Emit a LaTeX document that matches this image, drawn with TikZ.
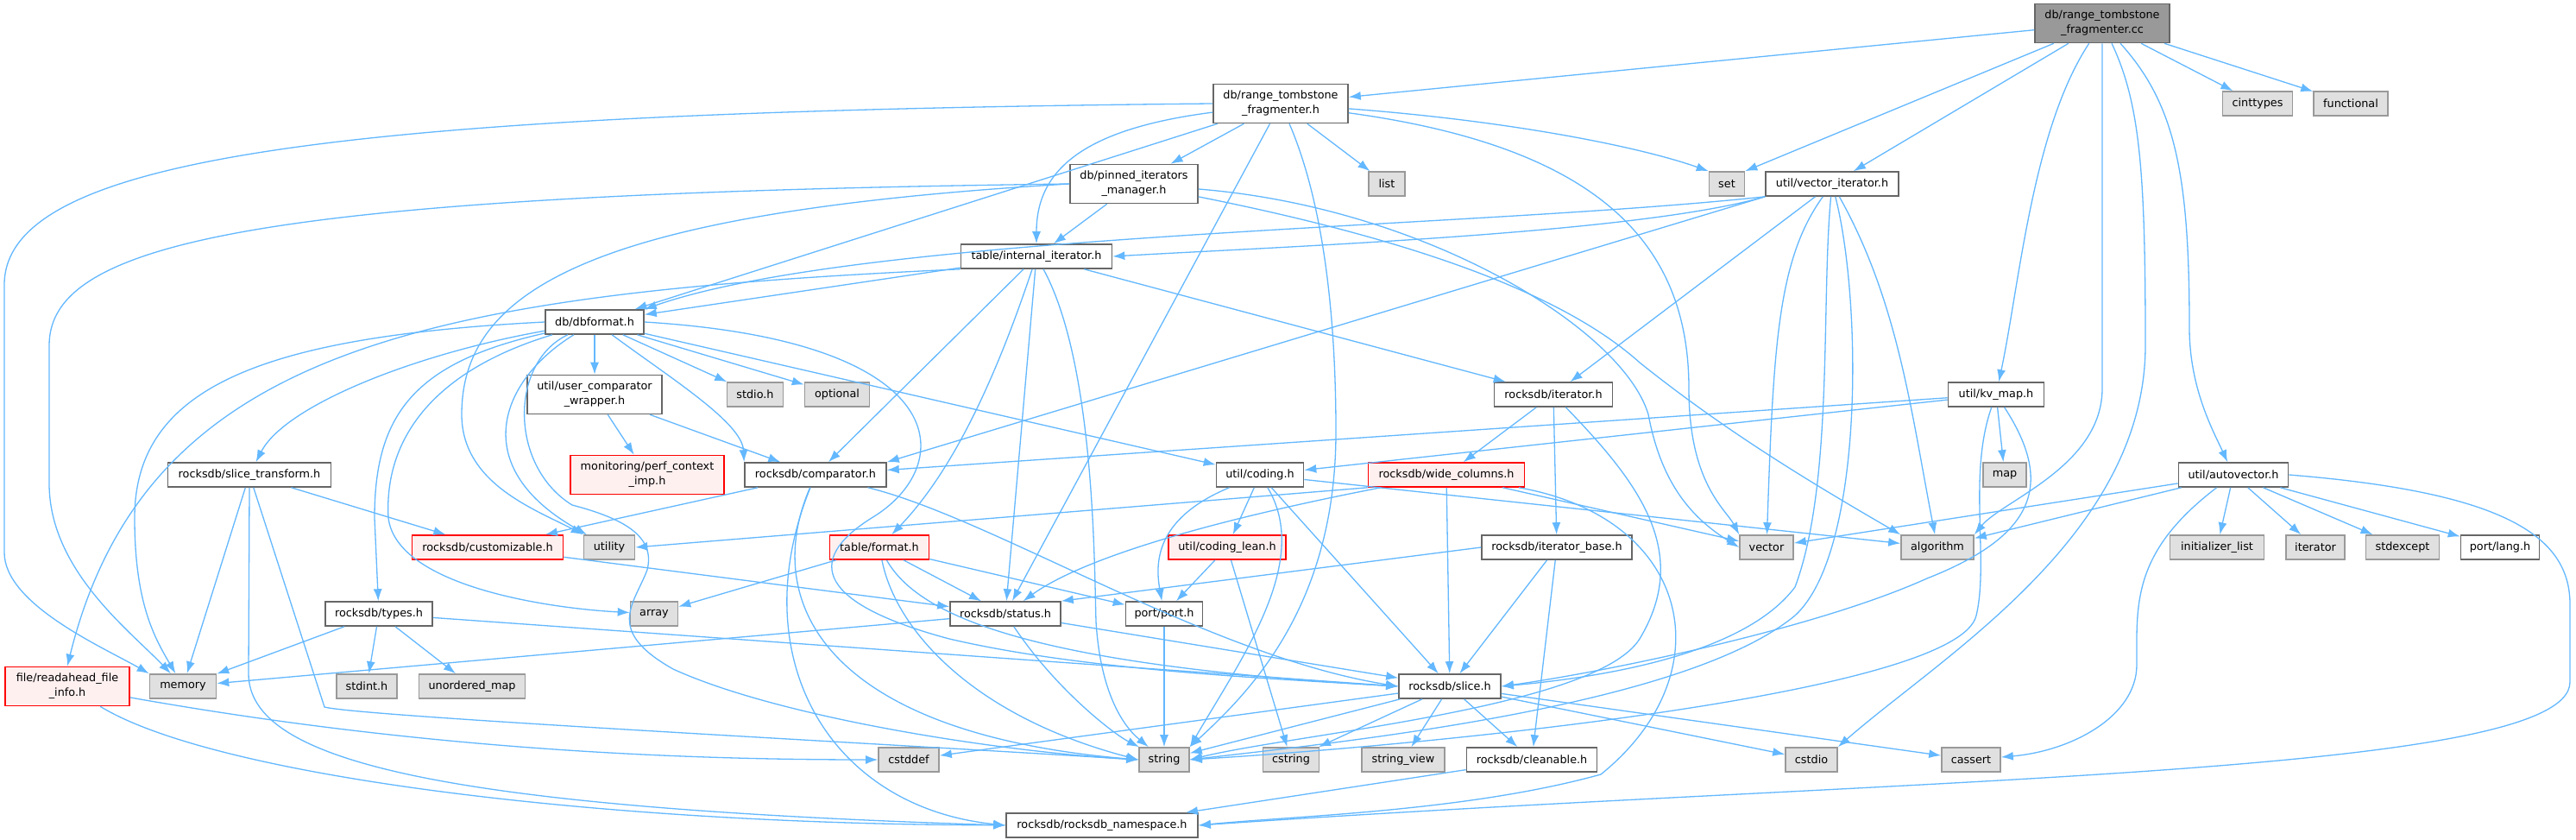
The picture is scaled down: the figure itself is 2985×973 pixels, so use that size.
\documentclass[tikz,border=0pt]{standalone}
\usepackage{fontspec}
\setmainfont{DejaVu Sans}
\usetikzlibrary{arrows.meta}

\definecolor{edgeblue}{HTML}{63B8FF}
\definecolor{nodeframe}{HTML}{666666}
\definecolor{sysfill}{HTML}{E0E0E0}
\definecolor{sysframe}{HTML}{999999}
\definecolor{rootfill}{HTML}{999999}
\definecolor{cutfill}{HTML}{FFF0F0}
\definecolor{cutframe}{HTML}{FF0000}

\begin{document}
\begin{tikzpicture}[>={Latex[length=14pt,width=10pt]}, x=1pt, y=-1pt]
  \tikzstyle{hdr}=[draw=nodeframe, line width=1.6pt, fill=white, inner sep=0pt, minimum height=28pt, align=center, font=\fontsize{12.8}{17}\selectfont]
  \tikzstyle{syshdr}=[hdr, draw=sysframe, fill=sysfill]
  \tikzstyle{cuthdr}=[hdr, draw=cutframe, fill=cutfill]
  \tikzstyle{srcfile}=[hdr, fill=rootfill, minimum height=45pt]
  \tikzstyle{inc}=[->, draw=edgeblue, line width=1.3pt]

  \useasboundingbox[fill=white] (0,0) rectangle (2985,973);

  % files
  \node[srcfile, minimum width=156pt] (root) at (2436,27) {db/range\_tombstone\\\_fragmenter.cc};
  \node[hdr, minimum width=156pt, minimum height=45pt] (rtfh) at (1484,120) {db/range\_tombstone\\\_fragmenter.h};
  \node[syshdr, minimum width=81pt] (cinttypes) at (2616,120) {cinttypes};
  \node[syshdr, minimum width=86pt] (functional) at (2724,120) {functional};
  \node[hdr, minimum width=148pt, minimum height=45pt] (pinned) at (1314,213) {db/pinned\_iterators\\\_manager.h};
  \node[syshdr, minimum width=42pt] (list) at (1607,213) {list};
  \node[syshdr, minimum width=41pt] (set) at (2001,213) {set};
  \node[hdr, minimum width=154pt] (vecit) at (2123,213) {util/vector\_iterator.h};
  \node[hdr, minimum width=175pt] (intit) at (1201,297) {table/internal\_iterator.h};
  \node[hdr, minimum width=114pt] (dbformat) at (689,373) {db/dbformat.h};
  \node[hdr, minimum width=156pt, minimum height=45pt] (ucw) at (689,457) {util/user\_comparator\\\_wrapper.h};
  \node[syshdr, minimum width=65pt] (stdioh) at (875,457) {stdio.h};
  \node[syshdr, minimum width=75pt] (optional) at (970,457) {optional};
  \node[hdr, minimum width=137pt] (iterh) at (1800,457) {rocksdb/iterator.h};
  \node[hdr, minimum width=111pt] (kvmap) at (2313,457) {util/kv\_map.h};
  \node[hdr, minimum width=189pt] (slicetr) at (289,550) {rocksdb/slice\_transform.h};
  \node[cuthdr, minimum width=178pt, minimum height=45pt] (perf) at (750,550) {monitoring/perf\_context\\\_imp.h};
  \node[hdr, minimum width=164pt] (comparator) at (945,550) {rocksdb/comparator.h};
  \node[hdr, minimum width=101pt] (coding) at (1460,550) {util/coding.h};
  \node[cuthdr, minimum width=181pt] (widecol) at (1676,550) {rocksdb/wide\_columns.h};
  \node[syshdr, minimum width=50pt] (map) at (2323,550) {map};
  \node[hdr, minimum width=127pt] (autovec) at (2588,550) {util/autovector.h};
  \node[cuthdr, minimum width=175pt] (custom) at (565,634) {rocksdb/customizable.h};
  \node[syshdr, minimum width=59pt] (utility) at (706,634) {utility};
  \node[cuthdr, minimum width=115pt] (format) at (1019,634) {table/format.h};
  \node[cuthdr, minimum width=136pt] (codinglean) at (1422,634) {util/coding\_lean.h};
  \node[hdr, minimum width=174pt] (iterbase) at (1804,634) {rocksdb/iterator\_base.h};
  \node[syshdr, minimum width=62pt] (vector) at (2047,634) {vector};
  \node[syshdr, minimum width=84pt] (algorithm) at (2245,634) {algorithm};
  \node[syshdr, minimum width=109pt] (initlist) at (2569,634) {initializer\_list};
  \node[syshdr, minimum width=68pt] (iterator) at (2683,634) {iterator};
  \node[syshdr, minimum width=85pt] (stdexcept) at (2784,634) {stdexcept};
  \node[hdr, minimum width=91pt] (portlang) at (2897,634) {port/lang.h};
  \node[hdr, minimum width=124pt] (types) at (439,711) {rocksdb/types.h};
  \node[syshdr, minimum width=55pt] (array) at (758,711) {array};
  \node[hdr, minimum width=128pt] (status) at (1165,711) {rocksdb/status.h};
  \node[hdr, minimum width=89pt] (port) at (1349,711) {port/port.h};
  \node[cuthdr, minimum width=144pt, minimum height=45pt] (readahead) at (78,795) {file/readahead\_file\\\_info.h};
  \node[syshdr, minimum width=77pt] (memory) at (212,795) {memory};
  \node[syshdr, minimum width=70pt] (stdint) at (425,795) {stdint.h};
  \node[syshdr, minimum width=123pt] (unordmap) at (547,795) {unordered\_map};
  \node[hdr, minimum width=118pt] (slice) at (1680,795) {rocksdb/slice.h};
  \node[syshdr, minimum width=70pt] (cstddef) at (1053,880) {cstddef};
  \node[syshdr, minimum width=58pt] (string) at (1349,880) {string};
  \node[syshdr, minimum width=65pt] (cstring) at (1496,880) {cstring};
  \node[syshdr, minimum width=96pt] (strview) at (1626,880) {string\_view};
  \node[hdr, minimum width=151pt] (cleanable) at (1775,880) {rocksdb/cleanable.h};
  \node[syshdr, minimum width=60pt] (cstdio) at (2099,880) {cstdio};
  \node[syshdr, minimum width=68pt] (cassert) at (2284,880) {cassert};
  \node[hdr, minimum width=222pt] (nspace) at (1277,956) {rocksdb/rocksdb\_namespace.h};

  % includes of the source file
  \draw[inc] (root) -- (rtfh);
  \draw[inc] (root) -- (set.north east);
  \draw[inc] (root) -- (vecit);
  \draw[inc] (root) .. controls (2355,150) and (2340,330) .. (kvmap);
  \draw[inc] (root.south) -- (2436,450) .. controls (2436,540) and (2320,580) .. (algorithm.north east);
  \draw[inc] (root) .. controls (2480,120) and (2486,200) .. (2486,400) .. controls (2486,620) and (2250,760) .. (cstdio.north east);
  \draw[inc] (root) .. controls (2520,120) and (2537,200) .. (2537,380) .. controls (2537,450) and (2565,500) .. (autovec);
  \draw[inc] (root) -- (cinttypes);
  \draw[inc] (root) -- (functional);

  % db/range_tombstone_fragmenter.h
  \draw[inc] (rtfh) -- (list);
  \draw[inc] (rtfh) .. controls (1750,140) and (1900,170) .. (set.north west);
  \draw[inc] (rtfh) .. controls (1850,170) and (1957,280) .. (1957,450) .. controls (1957,560) and (2000,590) .. (vector.north west);
  \draw[inc] (rtfh.west) .. controls (400,130) and (5,180) .. (5,330) -- (5,640) .. controls (5,700) and (120,750) .. (memory.north west);
  \draw[inc] (rtfh) -- (dbformat);
  \draw[inc] (rtfh) .. controls (1250,150) and (1201,200) .. (intit);
  \draw[inc] (rtfh) -- (pinned);
  \draw[inc] (rtfh) -- (status);
  \draw[inc] (rtfh) .. controls (1540,250) and (1548,400) .. (1548,500) .. controls (1548,700) and (1450,800) .. (string.north east);

  % db/pinned_iterators_manager.h
  \draw[inc] (pinned) -- (intit);
  \draw[inc] (pinned.west) .. controls (300,225) and (57,280) .. (57,400) -- (57,560) .. controls (57,660) and (150,730) .. (memory);
  \draw[inc] (pinned.west) .. controls (700,245) and (535,330) .. (535,480) .. controls (535,560) and (620,590) .. (utility.north west);
  \draw[inc] (pinned) .. controls (1650,240) and (1880,380) .. (1910,480) .. controls (1925,560) and (1960,600) .. (vector.west);
  \draw[inc] (pinned) .. controls (1600,270) and (1800,330) .. (1900,420) .. controls (2000,500) and (2100,560) .. (algorithm.north west);

  % util/vector_iterator.h
  \draw[inc] (vecit.south west) .. controls (1900,270) and (1500,285) .. (intit.east);
  \draw[inc] (vecit.south west) .. controls (1700,265) and (1000,270) .. (dbformat.north east);
  \draw[inc] (vecit.south west) -- (comparator.north east);
  \draw[inc] (vecit) -- (iterh);
  \draw[inc] (vecit) .. controls (2060,300) and (2055,400) .. (vector);
  \draw[inc] (vecit) .. controls (2110,350) and (2125,560) .. (2080,680) .. controls (2020,760) and (1850,785) .. (slice.east);
  \draw[inc] (vecit) .. controls (2158,350) and (2160,640) .. (2080,713) .. controls (1950,820) and (1550,860) .. (string.east);
  \draw[inc] (vecit) .. controls (2200,350) and (2215,480) .. (algorithm);

  % table/internal_iterator.h
  \draw[inc] (intit) -- (dbformat);
  \draw[inc] (intit.south west) .. controls (500,340) and (170,400) .. (readahead.north);
  \draw[inc] (intit) -- (comparator);
  \draw[inc] (intit) .. controls (1150,450) and (1100,550) .. (format);
  \draw[inc] (intit) -- (status);
  \draw[inc] (intit) .. controls (1268,420) and (1268,650) .. (1270,720) .. controls (1275,800) and (1300,840) .. (string);
  \draw[inc] (intit) -- (iterh);

  % db/dbformat.h
  \draw[inc] (dbformat) -- (ucw);
  \draw[inc] (dbformat) -- (stdioh);
  \draw[inc] (dbformat) -- (optional);
  \draw[inc] (dbformat) .. controls (780,440) and (860,490) .. (comparator.north west);
  \draw[inc] (dbformat.west) .. controls (300,390) and (156,450) .. (156,600) .. controls (156,700) and (180,740) .. (memory);
  \draw[inc] (dbformat) .. controls (480,410) and (330,470) .. (slicetr);
  \draw[inc] (dbformat) .. controls (480,420) and (434,480) .. (434,600) -- (types);
  \draw[inc] (dbformat) .. controls (500,430) and (445,510) .. (450,600) .. controls (460,680) and (640,705) .. (array);
  \draw[inc] (dbformat) .. controls (580,440) and (540,540) .. (utility);
  \draw[inc] (dbformat) .. controls (590,420) and (590,540) .. (663,585) .. controls (720,600) and (760,620) .. (750,660) .. controls (735,700) and (700,730) .. (780,775) .. controls (900,830) and (1150,870) .. (string.west);
  \draw[inc] (dbformat) -- (coding);
  \draw[inc] (dbformat.east) .. controls (1110,395) and (1110,540) .. (1010,600) .. controls (930,650) and (950,700) .. (1100,740) .. controls (1250,775) and (1450,785) .. (slice.west);

  % util/user_comparator_wrapper.h
  \draw[inc] (ucw) -- (perf);
  \draw[inc] (ucw) -- (comparator);

  % rocksdb/comparator.h
  \draw[inc] (comparator) -- (custom);
  \draw[inc] (comparator) .. controls (880,700) and (960,850) .. (string.west);
  \draw[inc] (comparator) .. controls (860,760) and (960,935) .. (nspace.west);
  \draw[inc] (comparator) .. controls (1150,600) and (1400,760) .. (slice.west);

  \draw[inc] (custom) -- (status);

  % table/format.h
  \draw[inc] (format) -- (array);
  \draw[inc] (format) -- (status);
  \draw[inc] (format) -- (port);
  \draw[inc] (format) .. controls (1064,713) and (1191,770) .. (slice.west);
  \draw[inc] (format) .. controls (1038,730) and (1128,830) .. (string.west);

  % util/coding.h
  \draw[inc] (coding) .. controls (1340,600) and (1338,650) .. (port);
  \draw[inc] (coding) -- (codinglean);
  \draw[inc] (coding) .. controls (1520,650) and (1440,760) .. (string.north east);
  \draw[inc] (coding) -- (slice);
  \draw[inc] (coding) -- (algorithm);

  \draw[inc] (codinglean) -- (port);
  \draw[inc] (codinglean) -- (cstring);

  % rocksdb/wide_columns.h
  \draw[inc] (widecol.south west) -- (utility.east);
  \draw[inc] (widecol) .. controls (1383,607) and (1250,650) .. (status);
  \draw[inc] (widecol) -- (slice);
  \draw[inc] (widecol) -- (vector);
  \draw[inc] (widecol) .. controls (1960,600) and (2000,780) .. (1855,897) .. controls (1700,940) and (1500,945) .. (nspace.east);

  % rocksdb/iterator.h
  \draw[inc] (iterh) -- (widecol);
  \draw[inc] (iterh) -- (iterbase);
  \draw[inc] (iterh) .. controls (1900,560) and (1960,640) .. (1900,740) .. controls (1850,820) and (1500,850) .. (string.east);

  \draw[inc] (iterbase.west) -- (status.north east);
  \draw[inc] (iterbase) -- (slice);
  \draw[inc] (iterbase) -- (cleanable);

  % rocksdb/types.h
  \draw[inc] (types) -- (memory);
  \draw[inc] (types) -- (stdint);
  \draw[inc] (types) -- (unordmap);
  \draw[inc] (types) -- (slice.west);

  % rocksdb/status.h
  \draw[inc] (status) -- (memory);
  \draw[inc] (status) .. controls (1223,798) and (1290,850) .. (string);
  \draw[inc] (status) -- (slice);

  \draw[inc] (port) -- (string);

  % file/readahead_file_info.h
  \draw[inc] (readahead) .. controls (500,870) and (800,880) .. (cstddef);
  \draw[inc] (readahead) .. controls (250,900) and (700,955) .. (nspace);

  % rocksdb/slice_transform.h
  \draw[inc] (slicetr) -- (custom);
  \draw[inc] (slicetr) -- (memory);
  \draw[inc] (slicetr.south) -- (288,780) .. controls (288,880) and (500,935) .. (nspace.west);
  \draw[inc] (slicetr) -- (376,819) .. controls (420,830) and (1000,860) .. (string.west);

  % util/kv_map.h
  \draw[inc] (kvmap) -- (map);
  \draw[inc] (kvmap) -- (comparator);
  \draw[inc] (kvmap) -- (coding);
  \draw[inc] (kvmap) .. controls (2280,550) and (2305,650) .. (2290,713) .. controls (2270,800) and (1700,860) .. (string.east);
  \draw[inc] (kvmap) .. controls (2380,560) and (2360,620) .. (2233,670) .. controls (2100,730) and (1850,780) .. (slice.east);

  % util/autovector.h
  \draw[inc] (autovec) -- (vector);
  \draw[inc] (autovec) -- (algorithm);
  \draw[inc] (autovec) -- (initlist);
  \draw[inc] (autovec) -- (iterator);
  \draw[inc] (autovec) -- (stdexcept);
  \draw[inc] (autovec) -- (portlang);
  \draw[inc] (autovec) .. controls (2470,640) and (2476,700) .. (2476,770) .. controls (2476,830) and (2400,870) .. (cassert);
  \draw[inc] (autovec.east) .. controls (2900,570) and (2978,620) .. (2978,700) -- (2978,790) .. controls (2978,900) and (2200,900) .. (nspace.east);

  % rocksdb/slice.h
  \draw[inc] (slice) -- (cstddef);
  \draw[inc] (slice) -- (string);
  \draw[inc] (slice) -- (cstring);
  \draw[inc] (slice) -- (strview);
  \draw[inc] (slice) -- (cleanable);
  \draw[inc] (slice) -- (cstdio);
  \draw[inc] (slice) -- (cassert);

  \draw[inc] (cleanable) -- (nspace);
\end{tikzpicture}
\end{document}
